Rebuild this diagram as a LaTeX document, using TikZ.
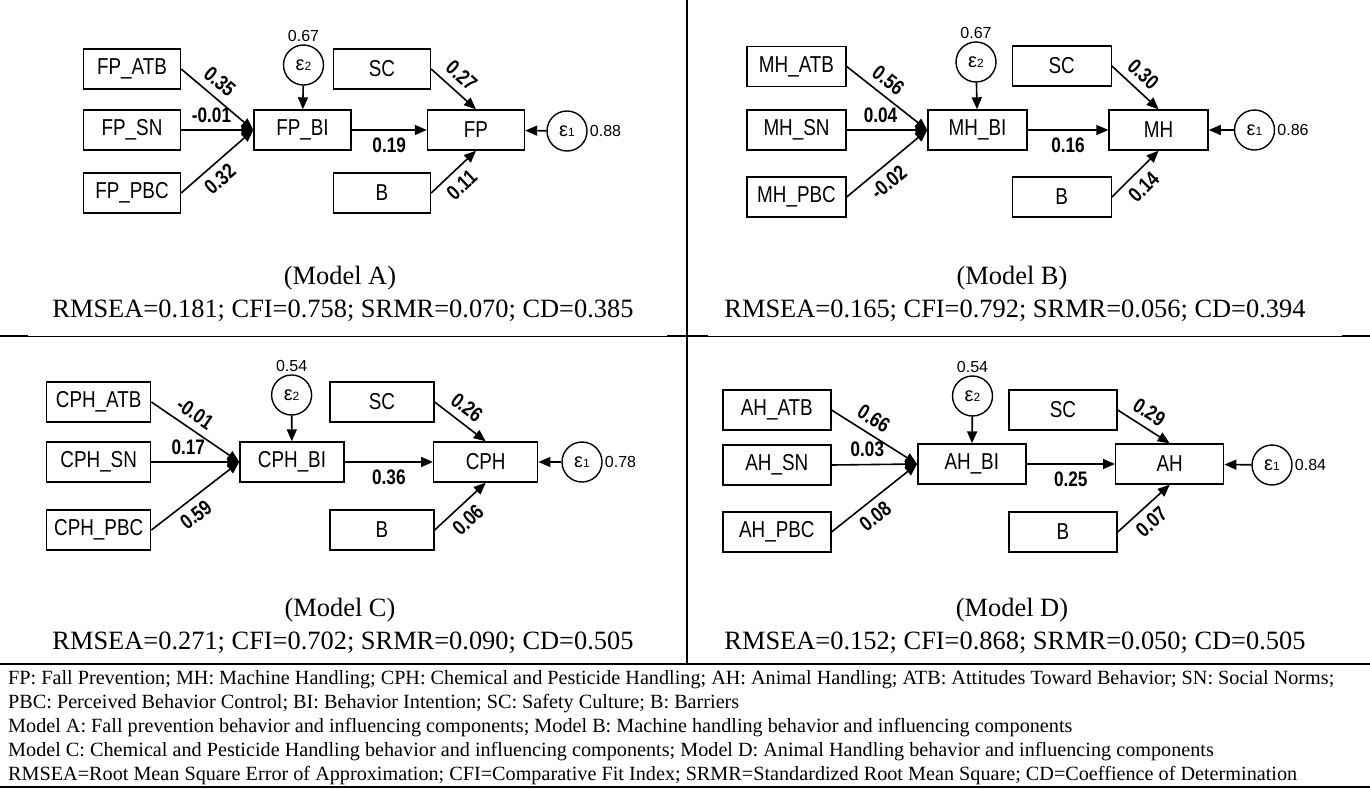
\documentclass[tikz,border=0pt]{standalone}
\usepackage{fontspec}
\setmainfont{Liberation Serif}
\newfontfamily\arialfont{Liberation Sans}
\newfontfamily\narrowfont{Liberation Sans}[FakeStretch=0.82]
\usetikzlibrary{arrows.meta}
\newcommand\fsz[1]{\fontsize{#1}{#1}\selectfont}

\begin{document}
\begin{tikzpicture}[x=1pt,y=-1pt,
  var/.style={draw,line width=1.4pt,minimum width=#1,minimum height=40pt,inner sep=0pt,font=\narrowfont\fsz{23}},
  var/.default=97pt,
  err/.style={draw,circle,line width=1.4pt,minimum size=40pt,inner sep=0pt,font=\arialfont\fsz{20}},
  arr/.style={-{Triangle[length=12pt,width=10pt]},line width=1.6pt},
  coef/.style={font=\narrowfont\bfseries\fsz{21},sloped,inner sep=7pt},
  num/.style={font=\arialfont\fsz{16},inner sep=2pt},
  mcap/.style={font=\fsz{26.4}},
  note/.style={font=\fsz{20.2},anchor=west,inner sep=0pt}]
\useasboundingbox (0,0) rectangle (1370,788);

% frame lines
\draw[line width=2pt] (687,0) -- (687,664);
\draw[line width=0.8pt] (0,336) -- (1370,336);
\draw[line width=2pt] (0,336) -- (28,336) (667,336) -- (708,336) (1342,336) -- (1370,336);
\draw[line width=1.8pt] (0,664) -- (1370,664);
\draw[line width=1.2pt] (0,787) -- (1370,787);

% Model A
\node[var] (atbA) at (132,69) {FP\_ATB};
\node[var] (snA) at (132,130) {FP\_SN};
\node[var] (pbcA) at (132,193) {FP\_PBC};
\node[var] (biA) at (302.5,130) {FP\_BI};
\node[var] (scA) at (382,69) {SC};
\node[var] (fpA) at (476,130) {FP};
\node[var] (bA) at (382,193) {B};
\node[err] (e2A) at (303.5,65) {ε\fsz{12}2};
\node[err] (e1A) at (567,131) {ε\fsz{12}1};
\node[num,above] (v2A) at (e2A.north) {0.67};
\node[num,right] (v1A) at (e1A.east) {0.88};
\draw[arr] (atbA.east) -- node[coef,above,pos=0.4]{0.35} (biA.west);
\draw[arr] (snA.east) -- node[coef,above,pos=0.42]{-0.01} (biA.west);
\draw[arr] (pbcA.east) -- node[coef,below,pos=0.4]{0.32} (biA.west);
\draw[arr] (e2A) -- (biA);
\draw[arr] (biA) -- node[coef,below]{0.19} (fpA);
\draw[arr] (scA.east) -- node[coef,above,pos=0.45]{0.27} (fpA.north);
\draw[arr] (bA.east) -- node[coef,below,pos=0.45]{0.11} (fpA.south);
\draw[arr] (e1A) -- (fpA);
\node[mcap] (mA) at (340,278) {(Model A)};
\node[mcap] (fitA) at (343,311) {RMSEA=0.181; CFI=0.758; SRMR=0.070; CD=0.385};

% Model B
\node[var=99pt] (atbB) at (796.5,66.5) {MH\_ATB};
\node[var=99pt] (snB) at (796.5,130) {MH\_SN};
\node[var=99pt] (pbcB) at (796.5,197) {MH\_PBC};
\node[var=99pt] (biB) at (977.5,130) {MH\_BI};
\node[var=99pt] (scB) at (1061.7,66) {SC};
\node[var=99pt] (mhB) at (1158.6,130) {MH};
\node[var=99pt] (bB) at (1061.7,197) {B};
\node[err] (e2B) at (976,62) {ε\fsz{12}2};
\node[err] (e1B) at (1254.5,130) {ε\fsz{12}1};
\node[num,above] (v2B) at (e2B.north) {0.67};
\node[num,right] (v1B) at (e1B.east) {0.86};
\draw[arr] (atbB.east) -- node[coef,above,pos=0.4]{0.56} (biB.west);
\draw[arr] (snB.east) -- node[coef,above,pos=0.42]{0.04} (biB.west);
\draw[arr] (pbcB.east) -- node[coef,below,pos=0.4]{-0.02} (biB.west);
\draw[arr] (e2B) -- (biB);
\draw[arr] (biB) -- node[coef,below]{0.16} (mhB);
\draw[arr] (scB.east) -- node[coef,above,pos=0.45]{0.30} (mhB.north);
\draw[arr] (bB.east) -- node[coef,below,pos=0.45]{0.14} (mhB.south);
\draw[arr] (e1B) -- (mhB);
\node[mcap] (mB) at (1012,278) {(Model B)};
\node[mcap] (fitB) at (1015,311) {RMSEA=0.165; CFI=0.792; SRMR=0.056; CD=0.394};

% Model C
\node[var=104pt] (atbC) at (98.7,402) {CPH\_ATB};
\node[var=104pt] (snC) at (98.7,462) {CPH\_SN};
\node[var=104pt] (pbcC) at (98.7,530) {CPH\_PBC};
\node[var=104pt] (biC) at (292,462) {CPH\_BI};
\node[var=104pt] (scC) at (382,402) {SC};
\node[var=104pt] (cphC) at (485.7,462) {CPH};
\node[var=104pt] (bC) at (382,530) {B};
\node[err] (e2C) at (291.6,395) {ε\fsz{12}2};
\node[err] (e1C) at (582,462) {ε\fsz{12}1};
\node[num,above] (v2C) at (e2C.north) {0.54};
\node[num,right] (v1C) at (e1C.east) {0.78};
\draw[arr] (atbC.east) -- node[coef,above,pos=0.4]{-0.01} (biC.west);
\draw[arr] (snC.east) -- node[coef,above,pos=0.42]{0.17} (biC.west);
\draw[arr] (pbcC.east) -- node[coef,below,pos=0.4]{0.59} (biC.west);
\draw[arr] (e2C) -- (biC);
\draw[arr] (biC) -- node[coef,below]{0.36} (cphC);
\draw[arr] (scC.east) -- node[coef,above,pos=0.45]{0.26} (cphC.north);
\draw[arr] (bC.east) -- node[coef,below,pos=0.45]{0.06} (cphC.south);
\draw[arr] (e1C) -- (cphC);
\node[mcap] (mC) at (340,610) {(Model C)};
\node[mcap] (fitC) at (343,643) {RMSEA=0.271; CFI=0.702; SRMR=0.090; CD=0.505};

% Model D
\node[var=108pt] (atbD) at (776.8,410) {AH\_ATB};
\node[var=108pt] (snD) at (776.8,465) {AH\_SN};
\node[var=108pt] (pbcD) at (776.8,532) {AH\_PBC};
\node[var=108pt] (biD) at (971.8,464) {AH\_BI};
\node[var=108pt] (scD) at (1063,410) {SC};
\node[var=108pt] (ahD) at (1169.7,464) {AH};
\node[var=108pt] (bD) at (1063,532) {B};
\node[err] (e2D) at (972.5,396) {ε\fsz{12}2};
\node[err] (e1D) at (1272,465) {ε\fsz{12}1};
\node[num,above] (v2D) at (e2D.north) {0.54};
\node[num,right] (v1D) at (e1D.east) {0.84};
\draw[arr] (atbD.east) -- node[coef,above,pos=0.4]{0.66} (biD.west);
\draw[arr] (snD.east) -- node[coef,above,pos=0.42]{0.03} (biD.west);
\draw[arr] (pbcD.east) -- node[coef,below,pos=0.4]{0.08} (biD.west);
\draw[arr] (e2D) -- (biD);
\draw[arr] (biD) -- node[coef,below]{0.25} (ahD);
\draw[arr] (scD.east) -- node[coef,above,pos=0.45]{0.29} (ahD.north);
\draw[arr] (bD.east) -- node[coef,below,pos=0.45]{0.07} (ahD.south);
\draw[arr] (e1D) -- (ahD);
\node[mcap] (mD) at (1012,610) {(Model D)};
\node[mcap] (fitD) at (1015,643) {RMSEA=0.152; CFI=0.868; SRMR=0.050; CD=0.505};

% notes
\node[note] (n1) at (8,680) {FP: Fall Prevention; MH: Machine Handling; CPH: Chemical and Pesticide Handling; AH: Animal Handling; ATB: Attitudes Toward Behavior; SN: Social Norms;};
\node[note] (n2) at (8,704) {PBC: Perceived Behavior Control; BI: Behavior Intention; SC: Safety Culture; B: Barriers};
\node[note] (n3) at (8,728) {Model A: Fall prevention behavior and influencing components; Model B: Machine handling behavior and influencing components};
\node[note] (n4) at (8,752) {Model C: Chemical and Pesticide Handling behavior and influencing components; Model D: Animal Handling behavior and influencing components};
\node[note] (n5) at (8,776) {RMSEA=Root Mean Square Error of Approximation; CFI=Comparative Fit Index; SRMR=Standardized Root Mean Square; CD=Coeffience of Determination};
\end{tikzpicture}
\end{document}
